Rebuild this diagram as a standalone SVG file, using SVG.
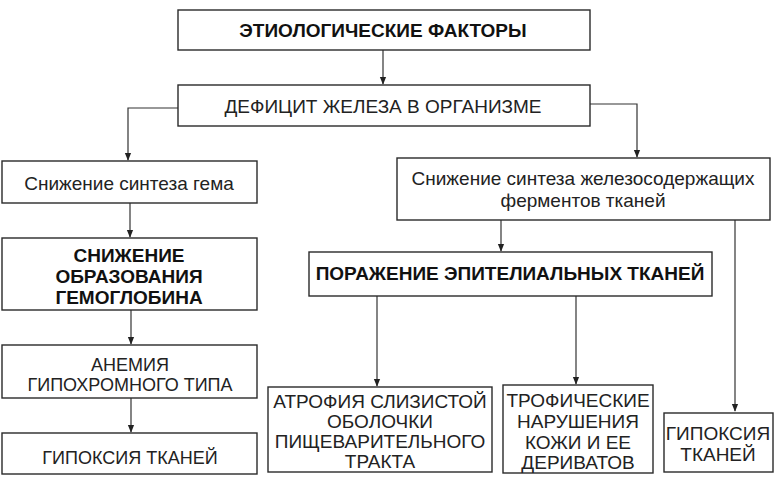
<svg xmlns="http://www.w3.org/2000/svg" width="782" height="492" viewBox="0 0 782 492">
<defs>
<style>
.box{fill:#fff;stroke:#2a2a2a;stroke-width:1.4}
.t{font-family:"Liberation Sans",Arial,sans-serif;font-size:19px;fill:#222;text-anchor:middle}
.s{font-size:18px}
.b{font-weight:bold;fill:#111}
.c{fill:none;stroke:#333;stroke-width:1.2}
</style>
<marker id="ah" viewBox="0 0 10 10" refX="9" refY="5" markerWidth="8" markerHeight="8" markerUnits="userSpaceOnUse" orient="auto">
<path d="M0,1 L10,5 L0,9 z" fill="#222"/>
</marker>
</defs>
<rect width="782" height="492" fill="#fff"/>
<g id="connectors">
<path class="c" d="M383,50 V84" marker-end="url(#ah)"/>
<path class="c" d="M178,108 H128 V160" marker-end="url(#ah)"/>
<path class="c" d="M590,104 H637 V157" marker-end="url(#ah)"/>
<path class="c" d="M130,203 V237" marker-end="url(#ah)"/>
<path class="c" d="M131,310 V344" marker-end="url(#ah)"/>
<path class="c" d="M131,398 V432" marker-end="url(#ah)"/>
<path class="c" d="M501,220 V251" marker-end="url(#ah)"/>
<path class="c" d="M735,220 V411" marker-end="url(#ah)"/>
<path class="c" d="M377,296 V386" marker-end="url(#ah)"/>
<path class="c" d="M576,296 V384" marker-end="url(#ah)"/>
</g>
<g id="n1"><rect class="box" x="178" y="10" width="412" height="40"/><text class="t b" x="383" y="37">ЭТИОЛОГИЧЕСКИЕ ФАКТОРЫ</text></g>
<g id="n2"><rect class="box" x="178" y="85" width="412" height="41"/><text class="t" x="383" y="113">ДЕФИЦИТ ЖЕЛЕЗА В ОРГАНИЗМЕ</text></g>
<g id="n3"><rect class="box" x="2" y="161" width="255" height="42"/><text class="t" x="129" y="190">Снижение синтеза гема</text></g>
<g id="n4"><rect class="box" x="397" y="158" width="373" height="62"/><text class="t" x="583" y="185">Снижение синтеза железосодержащих</text><text class="t" x="583" y="207">ферментов тканей</text></g>
<g id="n5"><rect class="box" x="2" y="238" width="255" height="72"/><text class="t b" x="129" y="262">СНИЖЕНИЕ</text><text class="t b" x="129" y="283">ОБРАЗОВАНИЯ</text><text class="t b" x="129" y="304">ГЕМОГЛОБИНА</text></g>
<g id="n6"><rect class="box" x="2" y="345" width="255" height="53"/><text class="t s" x="130" y="371">АНЕМИЯ</text><text class="t s" x="130" y="391">ГИПОХРОМНОГО ТИПА</text></g>
<g id="n7"><rect class="box" x="2" y="433" width="255" height="41"/><text class="t s" x="130" y="464">ГИПОКСИЯ ТКАНЕЙ</text></g>
<g id="n8"><rect class="box" x="309" y="252" width="403" height="44"/><text class="t b" x="510" y="280">ПОРАЖЕНИЕ ЭПИТЕЛИАЛЬНЫХ ТКАНЕЙ</text></g>
<g id="n9"><rect class="box" x="268" y="387" width="224" height="85"/><text class="t" x="380" y="408">АТРОФИЯ СЛИЗИСТОЙ</text><text class="t" x="380" y="428">ОБОЛОЧКИ</text><text class="t" x="380" y="448">ПИЩЕВАРИТЕЛЬНОГО</text><text class="t" x="380" y="468">ТРАКТА</text></g>
<g id="n10"><rect class="box" x="503" y="385" width="150" height="88"/><text class="t" x="578" y="407">ТРОФИЧЕСКИЕ</text><text class="t" x="578" y="428">НАРУШЕНИЯ</text><text class="t" x="578" y="449">КОЖИ И ЕЕ</text><text class="t" x="578" y="469">ДЕРИВАТОВ</text></g>
<g id="n11"><rect class="box" x="664" y="413" width="109" height="59"/><text class="t" x="718" y="440">ГИПОКСИЯ</text><text class="t" x="718" y="461">ТКАНЕЙ</text></g>
</svg>
